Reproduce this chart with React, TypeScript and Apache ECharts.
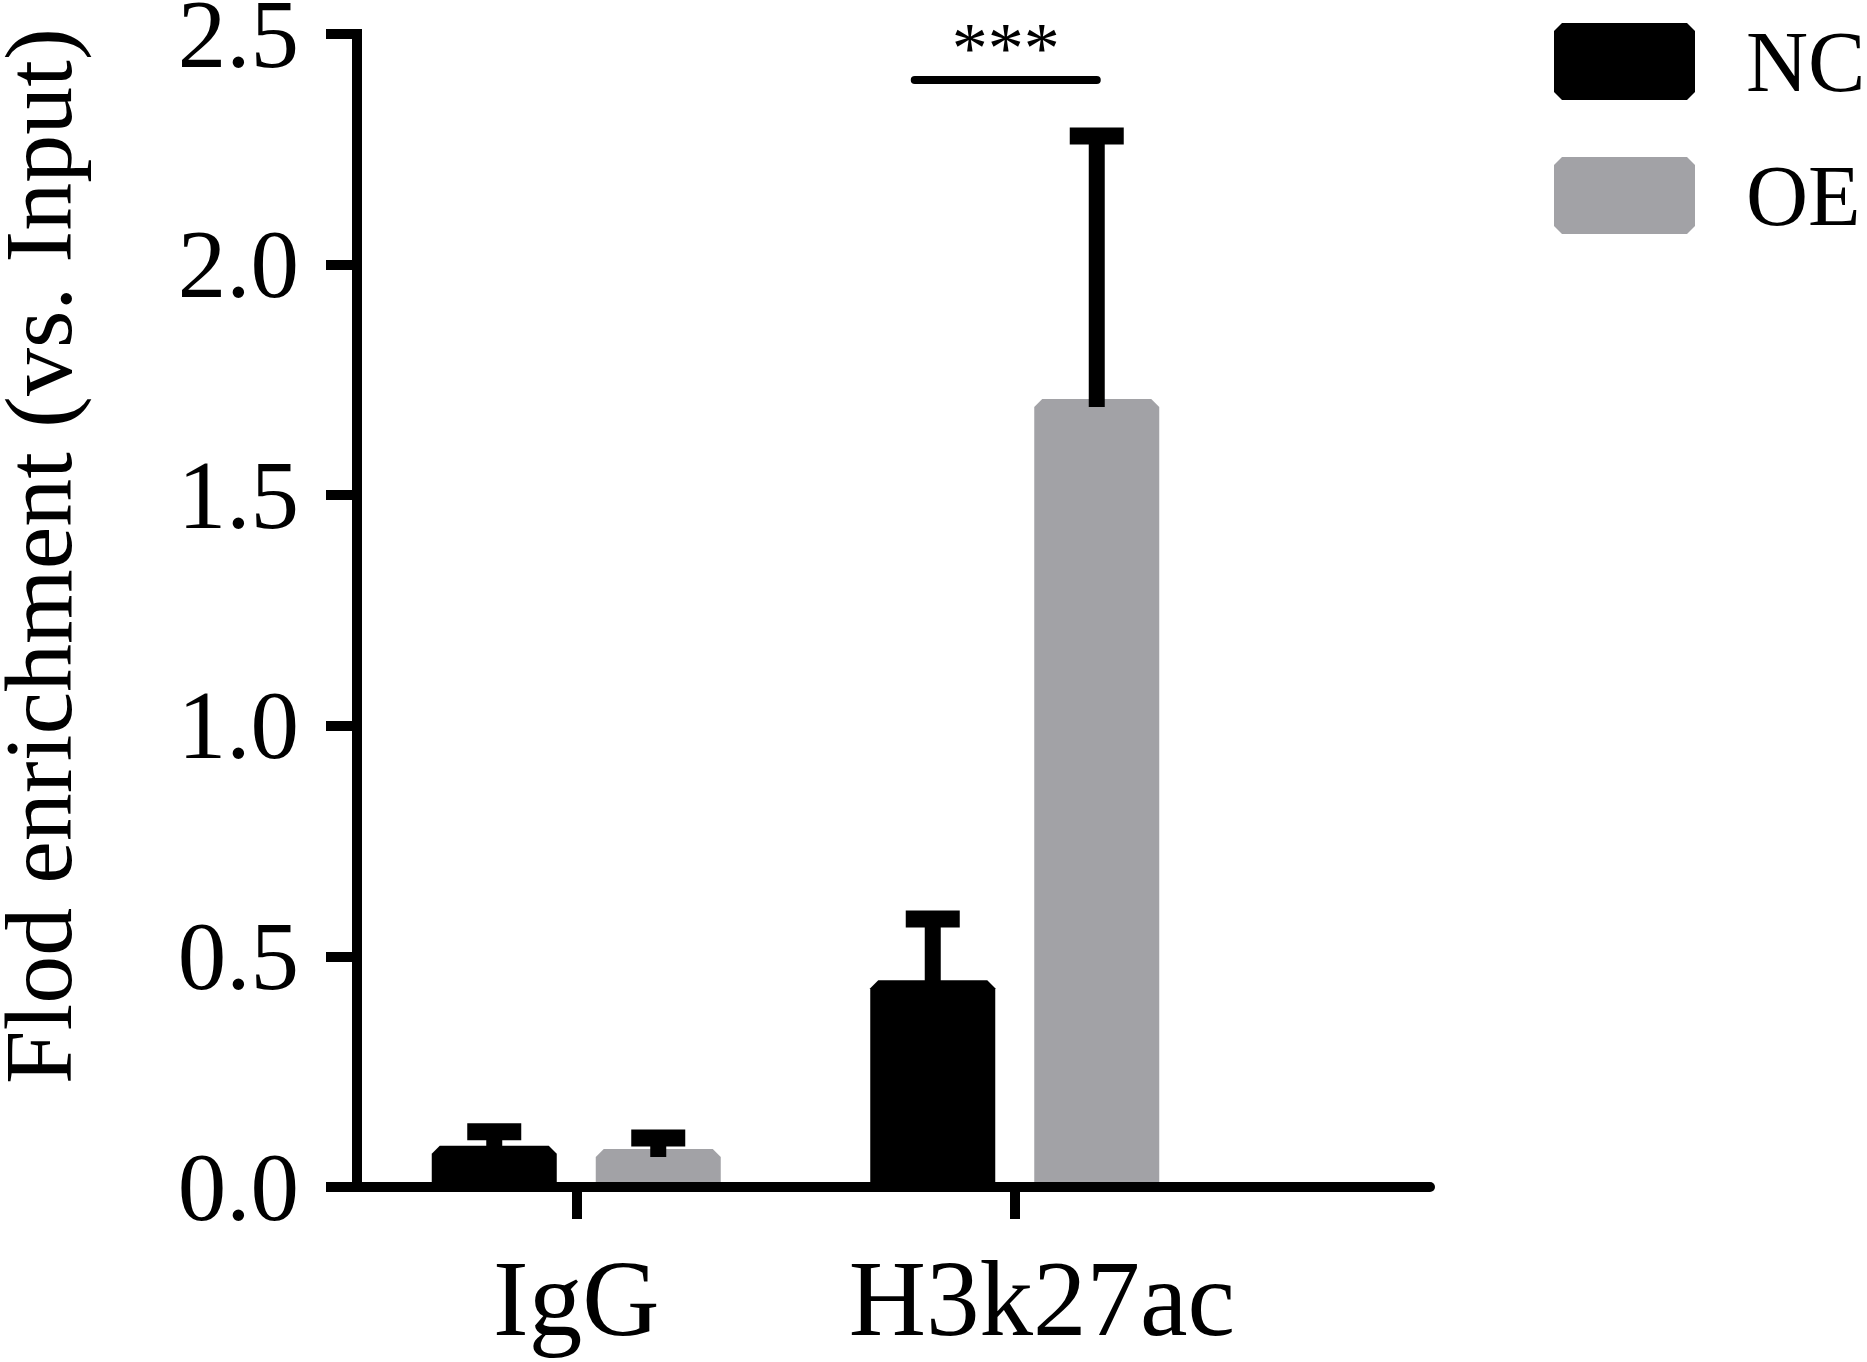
import React, { useEffect, useRef } from 'react';
import * as echarts from 'echarts';

// ---- data ----
const categories = ['IgG', 'H3k27ac'];
const seriesNames = ['NC', 'OE'];
const ncMean = [0.072, 0.431];
const ncUpper = [0.12, 0.581];
const oeMean = [0.065, 1.691];
const oeUpper = [0.106, 2.279];
const yTicks = [0.0, 0.5, 1.0, 1.5, 2.0, 2.5];
const yTitle = 'Flod enrichment (vs. Input)';
const sigLabel = '***';
const sigCategory = 1;
const sigLevel = 2.4;

// ---- style ----
const COLORS = ['#000000', '#a2a2a6'];
const FONT = 'Liberation Serif';
const BAR_W = 125;
const OFFSET = 82;
const CHAMFER = 8;
const BORDER = 8;

function makeBarRender(sign: number, color: string) {
  return (params: any, api: any) => {
    const cat = api.value(0);
    const top = api.coord([cat, api.value(1)]);
    const up = api.coord([cat, api.value(2)]);
    const base = api.coord([cat, 0]);
    const cx = top[0] + sign * OFFSET;
    const L = cx - BAR_W / 2;
    const R = cx + BAR_W / 2;
    const T = top[1] - BORDER;
    const B = base[1];
    return {
      type: 'group',
      children: [
        {
          type: 'polygon',
          shape: {
            points: [
              [L, B],
              [L, T + CHAMFER],
              [L + CHAMFER, T],
              [R - CHAMFER, T],
              [R, T + CHAMFER],
              [R, B],
            ],
          },
          style: { fill: color },
        },
        {
          type: 'rect',
          shape: { x: cx - 8, y: up[1], width: 16, height: top[1] - up[1] },
          style: { fill: '#000' },
        },
        {
          type: 'rect',
          shape: { x: cx - 27, y: up[1] - 8.5, width: 54, height: 17 },
          style: { fill: '#000' },
        },
      ],
    };
  };
}

function sigRender(params: any, api: any) {
  const c = api.coord([api.value(0), api.value(1)]);
  const x1 = c[0] - OFFSET - 18;
  const x2 = c[0] + OFFSET;
  return {
    type: 'group',
    children: [
      {
        type: 'line',
        shape: { x1, y1: c[1], x2, y2: c[1] },
        style: { stroke: '#000', lineWidth: 8, lineCap: 'round' },
      },
      {
        type: 'text',
        x: (x1 + x2) / 2,
        y: c[1] - 32,
        style: {
          text: sigLabel,
          fontSize: 72,
          fontFamily: FONT,
          fill: '#000',
          align: 'center',
          verticalAlign: 'middle',
        },
      },
    ],
  };
}

export default function App() {
  const ref = useRef<HTMLDivElement>(null);
  useEffect(() => {
    document.body.style.margin = '0';
    if (!ref.current) return;
    const chart = echarts.init(ref.current, undefined, { renderer: 'svg' });
    const makeData = (mean: number[], upper: number[]) =>
      categories.map((_, i) => [i, mean[i], upper[i]]);
    chart.setOption({
      animation: false,
      backgroundColor: '#ffffff',
      grid: [
        { left: 357, top: 34, width: 877, height: 1153, outerBoundsMode: 'none', containLabel: false },
        { left: 357, top: 34, width: 1073, height: 1153, outerBoundsMode: 'none', containLabel: false },
      ],
      legend: {
        orient: 'vertical',
        left: 1554,
        top: 18.5,
        padding: 0,
        itemWidth: 141,
        itemHeight: 77,
        itemGap: 48,
        icon: 'path://M8,0 L133,0 L141,8 L141,69 L133,77 L8,77 L0,69 L0,8 Z',
        data: seriesNames.map((n, i) => ({ name: n, itemStyle: { color: COLORS[i] } })),
        textStyle: {
          fontSize: 86,
          fontFamily: FONT,
          color: '#000',
          lineHeight: 77,
          padding: [0, 0, 0, 46],
        },
        selectedMode: false,
      },
      xAxis: [
        {
          gridIndex: 0,
          type: 'category',
          data: categories.map((c, i) =>
            i === 1 ? { value: c, textStyle: { padding: [0, 0, 0, 54] } } : c
          ),
          boundaryGap: true,
          axisLine: { show: false },
          axisTick: {
            show: true,
            interval: 0,
            alignWithLabel: true,
            length: 32,
            lineStyle: { width: 10, color: '#000' },
          },
          axisLabel: {
            interval: 0,
            fontSize: 107,
            fontFamily: FONT,
            color: '#000',
            margin: 58,
          },
          splitLine: { show: false },
        },
        {
          gridIndex: 1,
          type: 'value',
          min: 0,
          max: 1,
          z: 5,
          axisLine: { show: true, onZero: false, lineStyle: { width: 10, color: '#000' } },
          axisTick: { show: false },
          axisLabel: { show: false },
          splitLine: { show: false },
        },
      ],
      yAxis: [
        {
          gridIndex: 0,
          type: 'value',
          min: yTicks[0],
          max: yTicks[yTicks.length - 1],
          interval: yTicks[1] - yTicks[0],
          z: 5,
          axisLine: { show: true, lineStyle: { width: 10, color: '#000', cap: 'square' } },
          axisTick: { show: true, length: 31, lineStyle: { width: 10, color: '#000' } },
          axisLabel: {
            fontSize: 97,
            fontFamily: FONT,
            color: '#000',
            margin: 58,
            formatter: (v: number) => v.toFixed(1),
          },
          splitLine: { show: false },
        },
        {
          gridIndex: 1,
          type: 'value',
          min: yTicks[0],
          max: yTicks[yTicks.length - 1],
          show: false,
        },
      ],
      graphic: [
        {
          type: 'text',
          x: 38,
          y: 556,
          rotation: Math.PI / 2,
          style: {
            text: yTitle,
            fontSize: 96,
            fontFamily: FONT,
            fill: '#000',
            align: 'center',
            verticalAlign: 'middle',
          },
        },
      ],
      series: [
        {
          name: seriesNames[0],
          type: 'custom',
          xAxisIndex: 0,
          yAxisIndex: 0,
          itemStyle: { color: COLORS[0] },
          encode: { x: 0, y: [1, 2] },
          data: makeData(ncMean, ncUpper),
          renderItem: makeBarRender(-1, COLORS[0]),
        },
        {
          name: seriesNames[1],
          type: 'custom',
          xAxisIndex: 0,
          yAxisIndex: 0,
          itemStyle: { color: COLORS[1] },
          encode: { x: 0, y: [1, 2] },
          data: makeData(oeMean, oeUpper),
          renderItem: makeBarRender(1, COLORS[1]),
        },
        {
          name: 'significance',
          type: 'custom',
          xAxisIndex: 0,
          yAxisIndex: 0,
          encode: { x: 0, y: 1 },
          data: [[sigCategory, sigLevel]],
          renderItem: sigRender,
        },
      ],
    });
    return () => chart.dispose();
  }, []);
  return <div ref={ref} style={{ width: 1867, height: 1362 }} />;
}
